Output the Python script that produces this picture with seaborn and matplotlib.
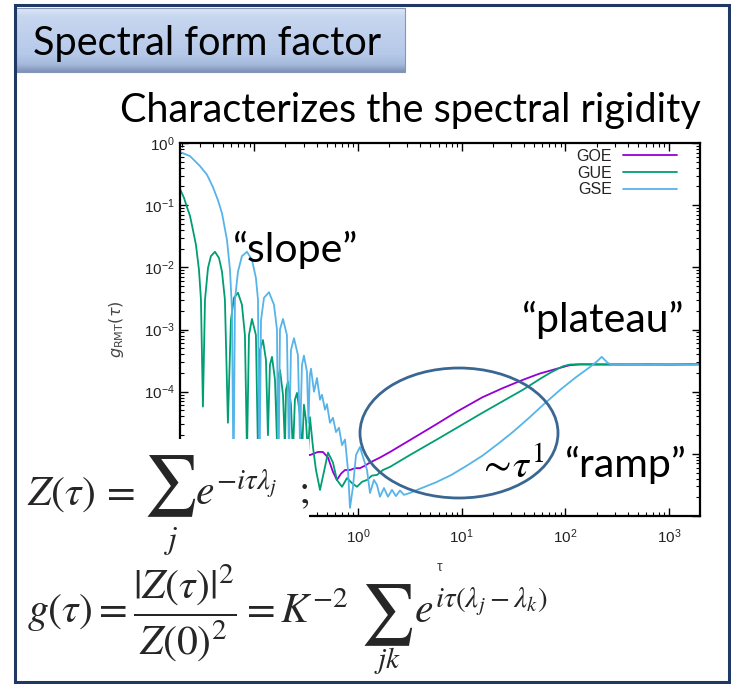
import numpy as np
import pandas as pd
import matplotlib
matplotlib.use("Agg")
import matplotlib.pyplot as plt
import seaborn as sns
from matplotlib.patches import Rectangle, Ellipse
from matplotlib.colors import LinearSegmentedColormap
from matplotlib.ticker import LogLocator, NullFormatter, FuncFormatter

# ---------------- data (log10 values) ----------------
goe_log_tau = [-0.502, -0.463, -0.386, -0.338, -0.289, -0.241, -0.203, -0.164, -0.125,
               -0.077, -0.029, 0.019, 0.068, 0.116, 0.212, 0.309, 0.500, 0.750, 0.955,
               1.200, 1.400, 1.590, 1.750, 1.920, 2.040, 2.150, 2.300, 2.500, 2.800,
               3.000, 3.300]
goe_log_g = [-5.00, -5.02, -4.97, -4.97, -5.06, -5.29, -5.42, -5.32, -5.26,
             -5.26, -5.23, -5.23, -5.19, -5.14, -5.06, -4.97, -4.78, -4.53, -4.32,
             -4.09, -3.94, -3.81, -3.71, -3.63, -3.575, -3.56, -3.56, -3.565, -3.56,
             -3.565, -3.56]

gue_log_tau = [-1.716, -1.678, -1.649, -1.620, -1.591, -1.562, -1.533, -1.514, -1.495,
               -1.475, -1.446, -1.418, -1.379, -1.340, -1.311, -1.283, -1.254, -1.225,
               -1.196, -1.157, -1.119, -1.090, -1.070, -1.051, -1.022, -0.984, -0.964,
               -0.945, -0.916, -0.887, -0.868, -0.849, -0.829, -0.800, -0.781, -0.772,
               -0.752, -0.723, -0.704, -0.694, -0.675, -0.646, -0.627, -0.608, -0.588,
               -0.559, -0.540, -0.521, -0.502, -0.482, -0.463, -0.434, -0.405, -0.366,
               -0.318, -0.289, -0.241, -0.203, -0.154, -0.106, -0.058, -0.010, 0.039,
               0.087, 0.135, 0.183, 0.241, 0.309, 0.500, 0.750, 0.955, 1.200, 1.400,
               1.590, 1.750, 1.850, 1.930, 1.980, 2.040, 2.100, 2.300, 2.500, 2.800,
               3.000, 3.300]
gue_log_g = [-0.74, -0.88, -1.03, -1.17, -1.40, -1.64, -2.04, -2.52, -4.24,
             -2.52, -2.01, -1.82, -1.75, -1.85, -2.07, -2.52, -4.50, -2.85,
             -2.49, -2.41, -2.60, -3.09, -5.00, -3.09, -2.83, -3.09, -5.00,
             -3.33, -3.17, -3.49, -4.70, -3.57, -3.44, -3.81, -4.80, -3.78,
             -3.65, -4.05, -4.90, -3.97, -3.84, -4.21, -5.00, -4.13, -4.02,
             -4.37, -5.00, -4.21, -4.45, -5.00, -4.41, -4.89, -5.26, -5.58,
             -5.21, -4.98, -5.14, -5.42, -5.53, -5.39, -5.47, -5.53, -5.45,
             -5.42, -5.35, -5.34, -5.26, -5.21, -5.02, -4.78, -4.58, -4.34, -4.15,
             -3.97, -3.80, -3.70, -3.63, -3.59, -3.565, -3.56, -3.565, -3.56, -3.565,
             -3.56, -3.56]

gse_log_tau = [-1.716, -1.620, -1.524, -1.456, -1.398, -1.350, -1.311, -1.263, -1.234,
               -1.215, -1.200, -1.186, -1.157, -1.119, -1.070, -1.022, -0.984, -0.964,
               -0.950, -0.935, -0.906, -0.858, -0.810, -0.781, -0.767, -0.752, -0.723,
               -0.685, -0.665, -0.646, -0.617, -0.579, -0.559, -0.540, -0.521, -0.492,
               -0.477, -0.465, -0.453, -0.424, -0.395, -0.366, -0.347, -0.318, -0.299,
               -0.270, -0.241, -0.212, -0.183, -0.154, -0.125, -0.096, -0.077, -0.048,
               -0.019, 0.019, 0.058, 0.087, 0.116, 0.154, 0.183, 0.212, 0.251, 0.289,
               0.328, 0.366, 0.405, 0.444, 0.500, 0.600, 0.750, 0.900, 1.050, 1.200,
               1.350, 1.500, 1.650, 1.800, 1.950, 2.100, 2.240, 2.300, 2.350, 2.410,
               2.460, 2.600, 2.800, 3.000, 3.200, 3.300]
gse_log_g = [-0.145, -0.21, -0.37, -0.51, -0.71, -0.92, -1.13, -1.56, -2.04,
             -2.68, -5.50, -2.52, -2.07, -1.82, -1.75, -1.88, -2.17, -2.52,
             -5.50, -2.85, -2.49, -2.40, -2.60, -3.00, -5.50, -3.00, -2.83,
             -3.09, -5.00, -3.33, -3.14, -3.41, -4.80, -3.57, -3.42, -3.68,
             -4.50, -3.75, -3.63, -4.00, -3.78, -4.13, -4.05, -4.29, -4.20,
             -4.50, -4.42, -4.65, -4.58, -4.86, -4.77, -5.26, -5.87, -5.53,
             -5.02, -4.89, -5.10, -5.26, -5.63, -5.42, -5.50, -5.69, -5.55, -5.69,
             -5.58, -5.68, -5.59, -5.66, -5.63, -5.56, -5.46, -5.34, -5.19, -5.03,
             -4.84, -4.64, -4.42, -4.19, -3.97, -3.77, -3.60, -3.52, -3.44, -3.54,
             -3.57, -3.56, -3.565, -3.56, -3.565, -3.56]

series_names = ["GOE", "GUE", "GSE"]
series_colors = ["#9400D3", "#009E73", "#56B4E9"]

# tick labels that are not covered by the formula box in the slide
x_label_decades = [0, 1, 2, 3]
y_label_decades = [0, -1, -2, -3, -4]

# ---------------- build long-form table ----------------
frames = []
for name, lt, lg in [("GOE", goe_log_tau, goe_log_g),
                     ("GUE", gue_log_tau, gue_log_g),
                     ("GSE", gse_log_tau, gse_log_g)]:
    frames.append(pd.DataFrame({"tau": np.power(10.0, lt),
                                "g": np.power(10.0, lg),
                                "ensemble": name}))
df = pd.concat(frames, ignore_index=True)

# ---------------- figure ----------------
sns.set_style("ticks")
plt.rcParams["font.family"] = ["Liberation Sans", "DejaVu Sans"]

W, H = 731, 684
fig = plt.figure(figsize=(W / 100, H / 100), dpi=100)
fig.patch.set_facecolor("white")

ax_l, ax_r, ax_t, ax_b = 180, 700, 143, 516
ax = fig.add_axes([ax_l / W, 1 - ax_b / H, (ax_r - ax_l) / W, (ax_b - ax_t) / H])

sns.lineplot(data=df, x="tau", y="g", hue="ensemble", hue_order=series_names,
             palette=dict(zip(series_names, series_colors)), estimator=None,
             sort=False, linewidth=1.3, ax=ax)

ax.set_xscale("log")
ax.set_yscale("log")
ax.set_xlim(10 ** -1.716, 10 ** 3.298)
ax.set_ylim(1e-6, 1)


def make_fmt(shown):
    def f(v, pos):
        d = int(round(np.log10(v)))
        return r"$\mathregular{10^{%d}}$" % d if d in shown else ""
    return FuncFormatter(f)


for axis, shown in ((ax.xaxis, x_label_decades), (ax.yaxis, y_label_decades)):
    axis.set_major_locator(LogLocator(base=10, numticks=20))
    axis.set_major_formatter(make_fmt(shown))
    axis.set_minor_locator(LogLocator(base=10, subs=np.arange(2, 10) * 1.0, numticks=60))
    axis.set_minor_formatter(NullFormatter())

ax.tick_params(which="both", direction="in", top=True, right=True, colors="black",
               labelcolor="#222222", labelsize=11)
ax.tick_params(which="major", length=6, width=1.0)
ax.tick_params(which="minor", length=3, width=0.8)
ax.tick_params(axis="y", pad=4)
ax.tick_params(axis="x", pad=8)
for sp in ax.spines.values():
    sp.set_linewidth(1.6)
    sp.set_color("black")

ax.set_xlabel("τ", fontsize=10, color="#444444", labelpad=10)
ax.set_ylabel(r"$g_{\mathrm{RMT}}(\tau)$", fontsize=11.5, color="#444444", labelpad=13)
ax.yaxis.label.set_math_fontfamily("dejavusans")

sns.move_legend(ax, "upper right", bbox_to_anchor=(0.956, 0.985), frameon=False,
                markerfirst=False, title=None, fontsize=11.5, handlelength=3.4,
                handletextpad=0.7, labelspacing=0.12, borderpad=0, borderaxespad=0)
for t in ax.get_legend().get_texts():
    t.set_color("#222222")

# ---------------- slide overlay (pixel coordinates) ----------------
ov = fig.add_axes([0, 0, 1, 1])
ov.patch.set_alpha(0)
ov.axis("off")

# white box behind the first formula (hides the lower-left of the plot)
ov.add_patch(Rectangle((17, 439), 292, 124, facecolor="white", edgecolor="none", zorder=2))

# title box with gradient
grad = np.linspace(0, 1, 200)[:, None]
cmap = LinearSegmentedColormap.from_list(
    "tb", [(0, "#DDE7F6"), (0.12, "#C8D7F0"), (0.72, "#B6C9E9"), (0.88, "#A6BADD"), (1, "#7E92B9")])
ov.imshow(grad, extent=(16, 405, 72, 8), cmap=cmap, aspect="auto", origin="upper",
          interpolation="bilinear", zorder=3)
ov.add_patch(Rectangle((16, 8), 389, 64, fill=False, edgecolor="#8496B8", linewidth=0.8, zorder=4))

# outer slide frame
ov.add_patch(Rectangle((14.5, 4.5), 714, 677, fill=False, edgecolor="#1F3864",
                       linewidth=2.2, zorder=5))

# ellipse around the ramp
ov.add_patch(Ellipse((459, 433), 198, 130, fill=False, edgecolor="#3A6792",
                     linewidth=2.0, zorder=6))

txt_font = ["Lato", "DejaVu Sans"]
ov.text(33, 55, "Spectral form factor", fontsize=28.5, family=txt_font, color="black",
        va="baseline", ha="left", zorder=7)
ov.text(120, 122, "Characterizes the spectral rigidity", fontsize=28.5, family=txt_font,
        color="black", va="baseline", ha="left", zorder=7)
ov.text(233, 262, "\u201cslope\u201d", fontsize=29.5, family=txt_font, color="black",
        va="baseline", ha="left", zorder=7)
ov.text(522, 332, "\u201cplateau\u201d", fontsize=29.5, family=txt_font, color="black",
        va="baseline", ha="left", zorder=7)
ov.text(478, 477, r"$\sim\!\tau^{1}$", fontsize=29, color="black", va="baseline",
        ha="left", zorder=7, math_fontfamily="stix")
ov.text(565, 477, "\u201cramp\u201d", fontsize=29.5, family=txt_font, color="black",
        va="baseline", ha="left", zorder=7)

# formula 1
mf = "stix"
fs = 30
ov.text(27, 505, r"$Z(\tau)\,=$", fontsize=fs, va="baseline", ha="left", zorder=7, math_fontfamily=mf)
ov.text(171, 501, "\u2211", fontsize=43, family="STIXGeneral", va="baseline", ha="center", zorder=7)
ov.text(171, 548, r"$j$", fontsize=23, va="baseline", ha="center", zorder=7, math_fontfamily=mf)
ov.text(195, 505, r"$e^{-i\tau\lambda_j}$", fontsize=fs, va="baseline", ha="left", zorder=7, math_fontfamily=mf)
ov.text(298, 503, r"$;$", fontsize=fs, va="baseline", ha="left", zorder=7, math_fontfamily=mf)

# formula 2
ov.text(27, 623, r"$g(\tau)=\dfrac{|Z(\tau)|^2}{Z(0)^2}=K^{-2}$", fontsize=fs,
        va="baseline", ha="left", zorder=7, math_fontfamily=mf)
ov.text(388, 630, "\u2211", fontsize=43, family="STIXGeneral", va="baseline", ha="center", zorder=7)
ov.text(388, 668, r"$jk$", fontsize=21, va="baseline", ha="center", zorder=7, math_fontfamily=mf)
ov.text(414, 623, r"$e^{i\tau(\lambda_j-\lambda_k)}$", fontsize=fs, va="baseline", ha="left",
        zorder=7, math_fontfamily=mf)

ov.set_xlim(0, W)
ov.set_ylim(H, 0)

fig.savefig("out.png", dpi=100, facecolor="white")
